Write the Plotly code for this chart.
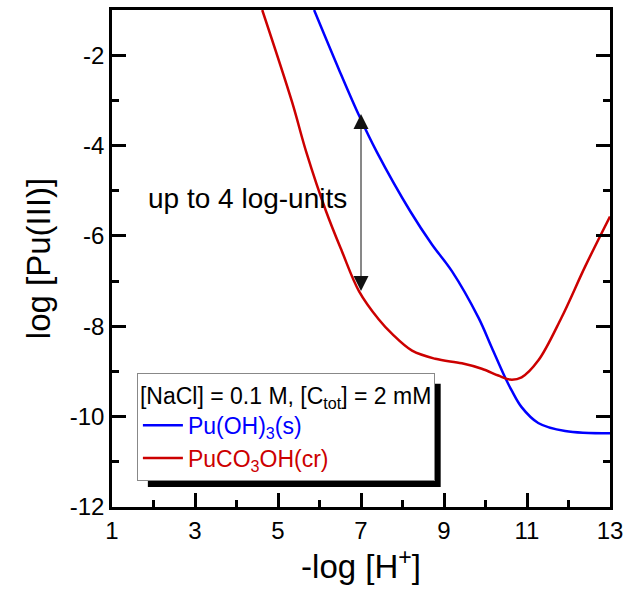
import plotly.graph_objects as go

# ---- data ----
ph_blue = [5.87, 6.47, 6.95, 7.38, 8.19, 8.71, 9.19, 9.83, 10.15, 10.47, 10.63, 10.87, 11.27, 11.92, 13.0]
pu_blue = [-1.00, -2.32, -3.33, -4.14, -5.46, -6.19, -6.78, -7.81, -8.47, -9.13, -9.42, -9.79, -10.14,
           -10.32, -10.37]

ph_red = [4.62, 5.34, 5.68, 6.16, 6.54, 6.95, 7.43, 7.75, 8.23, 8.79, 9.43, 9.91, 10.31, 10.59,
          10.87, 11.27, 11.83, 12.4, 13.0]
pu_red = [-1.00, -3.04, -4.14, -5.46, -6.34, -7.22, -7.85, -8.17, -8.54, -8.72, -8.82, -8.94, -9.09, -9.18,
          -9.13, -8.76, -7.81, -6.68, -5.57]

x_tickvals = [1, 3, 5, 7, 9, 11, 13]
x_ticktext = ["1", "3", "5", "7", "9", "11", "13"]
y_tickvals = [-12, -10, -8, -6, -4, -2]
y_ticktext = ["-12", "-10", "-8", "-6", "-4", "-2"]

name_blue = "Pu(OH)<sub>3</sub>(s)"
name_red = "PuCO<sub>3</sub>OH(cr)"
legend_title = "[NaCl] = 0.1 M, [C<sub>tot</sub>] = 2 mM"
arrow_x = 7.0
arrow_top = -3.3
arrow_bottom = -7.25
note_text = "up to 4 log-units"

FONT = "Liberation Sans, Arial, sans-serif"
BLUE = "#0000FF"
RED = "#CC0000"

fig = go.Figure()
fig.add_trace(go.Scatter(x=ph_blue, y=pu_blue, mode="lines", line=dict(color=BLUE, width=2.5, shape="spline", smoothing=1.0),
                         name=f"<span style='color:{BLUE}'>{name_blue}</span>"))
fig.add_trace(go.Scatter(x=ph_red, y=pu_red, mode="lines", line=dict(color=RED, width=2.5, shape="spline", smoothing=1.0),
                         name=f"<span style='color:{RED}'>{name_red}</span>"))

# double-headed arrow
fig.add_annotation(x=arrow_x, y=arrow_top, ax=arrow_x, ay=arrow_bottom, xref="x", yref="y", axref="x", ayref="y",
                   text="", showarrow=True, arrowhead=2, startarrowhead=2, arrowside="end+start",
                   arrowsize=3, startarrowsize=3, arrowwidth=1, arrowcolor="#111111")
fig.add_annotation(x=4.26, y=-5.18, xref="x", yref="y", text=note_text, showarrow=False,
                   font=dict(family=FONT, size=28, color="black"), xanchor="center", yanchor="middle")

# legend shadow
fig.add_shape(type="rect", xref="paper", yref="paper", x0=0.072, x1=0.66, y0=0.04, y1=0.248,
              fillcolor="black", line=dict(width=0), layer="above")

fig.update_layout(
    width=630, height=598,
    margin=dict(l=112, r=18, t=7, b=91),
    plot_bgcolor="white", paper_bgcolor="white",
    font=dict(family=FONT, color="black"),
    showlegend=True,
    legend=dict(x=0.05, y=0.27, xanchor="left", yanchor="top", bgcolor="white",
                bordercolor="#888888", borderwidth=1,
                font=dict(family=FONT, size=23, color="black"),
                title=dict(text=legend_title, font=dict(family=FONT, size=23, color="black")),
                tracegroupgap=0, itemwidth=40),
    xaxis=dict(range=[1, 13], tickvals=x_tickvals, ticktext=x_ticktext, ticks="inside", ticklen=14, tickwidth=2.5,
               tickcolor="black", showline=True, linewidth=2.5, linecolor="black", mirror=True, showgrid=False,
               zeroline=False,
               minor=dict(dtick=1, tick0=0, ticks="inside", ticklen=7, tickwidth=2.5, tickcolor="black", showgrid=False),
               tickfont=dict(family=FONT, size=24, color="black"),
               title=dict(text="-log [H<sup>+</sup>]", font=dict(family=FONT, size=33, color="black"), standoff=8)),
    yaxis=dict(range=[-12, -1], tickvals=y_tickvals, ticktext=y_ticktext, ticks="inside", ticklen=14, tickwidth=2.5,
               tickcolor="black", showline=True, linewidth=2.5, linecolor="black", mirror="ticks", showgrid=False,
               zeroline=False,
               minor=dict(dtick=1, tick0=0, ticks="inside", ticklen=7, tickwidth=2.5, tickcolor="black", showgrid=False),
               tickfont=dict(family=FONT, size=24, color="black"),
               title=dict(text="log [Pu(III)]", font=dict(family=FONT, size=33, color="black"), standoff=10)),
)

fig.write_html("out.html")
